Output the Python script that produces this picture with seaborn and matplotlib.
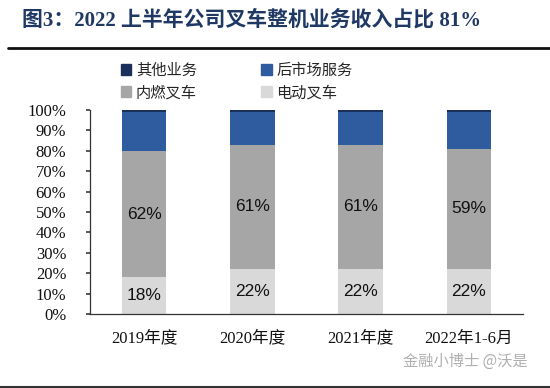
import matplotlib
matplotlib.use("Agg")
import matplotlib.pyplot as plt
import pandas as pd
import seaborn as sns
from matplotlib.patches import Patch

# data (%)
years = ["2019年度", "2020年度", "2021年度", "2022年1-6月"]
electric = [18, 22, 22, 22]        # 电动叉车
ice = [62, 61, 61, 59]             # 内燃叉车
aftermarket = [19.2, 16.2, 16.2, 18.0]  # 后市场服务
other = [0.8, 0.8, 0.8, 1.0]       # 其他业务

colors = {"电动叉车": "#d9d9d9", "内燃叉车": "#a6a6a6",
          "后市场服务": "#2e5c9e", "其他业务": "#1b2f5c"}

sns.set_theme(style="white")
serif = ["Liberation Serif", "Noto Sans CJK SC"]
cjk = ["Noto Sans CJK SC", "DejaVu Sans"]
plt.rcParams["font.family"] = cjk

df = pd.DataFrame({"year": years, "电动叉车": electric, "内燃叉车": ice,
                   "后市场服务": aftermarket, "其他业务": other})

fig = plt.figure(figsize=(5.5, 3.88), dpi=100)
ax = fig.add_axes([0.1636, 0.1907, 0.7874, 0.5258])

bottom = [0, 0, 0, 0]
for name in ["电动叉车", "内燃叉车", "后市场服务", "其他业务"]:
    sns.barplot(data=df, x="year", y=name, bottom=bottom, color=colors[name],
                width=0.41, saturation=1, linewidth=0, edgecolor="none", ax=ax)
    bottom = [b + v for b, v in zip(bottom, df[name])]

# value labels
for i in range(len(years)):
    ax.text(i, electric[i] / 2, f"{electric[i]}%", ha="center", va="center",
            fontsize=12.5, family="Liberation Sans", color="#111111")
    ax.text(i, electric[i] + ice[i] / 2, f"{ice[i]}%", ha="center", va="center",
            fontsize=12.5, family="Liberation Sans", color="#111111")

ax.set_xlim(-0.5, 3.5)
ax.set_ylim(0, 100)
ax.set_yticks(range(0, 101, 10))
ax.set_yticklabels([f"{v}%" for v in range(0, 101, 10)], family=serif, fontsize=12)
ax.set_xticks(range(4))
ax.set_xticklabels(years, family=serif, fontsize=12)
ax.set_xlabel("")
ax.set_ylabel("")
ax.set_xticks([0.5, 1.5, 2.5, 3.5], minor=True)
ax.tick_params(axis="x", which="major", length=0, pad=12, colors="#111111")
ax.tick_params(axis="x", which="minor", direction="in", length=4, color="#444444")
ax.tick_params(axis="y", length=3, direction="out", left=True, color="#444444",
               pad=14, colors="#111111")
for s in ["top", "right"]:
    ax.spines[s].set_visible(False)
for s in ["left", "bottom"]:
    ax.spines[s].set_color("#333333")
    ax.spines[s].set_linewidth(0.9)

# legend
handles = [Patch(color=colors["其他业务"]), Patch(color=colors["内燃叉车"]),
           Patch(color=colors["后市场服务"]), Patch(color=colors["电动叉车"])]
labels = ["其他业务", "内燃叉车", "后市场服务", "电动叉车"]
fig.legend(handles, labels, ncol=2, loc="center", bbox_to_anchor=(0.43, 0.79),
           frameon=False, fontsize=11, handlelength=0.7, handleheight=0.7,
           handletextpad=0.3, columnspacing=4.2, labelspacing=0.35)

# title and rules
fig.text(0.04, 0.947, "图3：2022 上半年公司叉车整机业务收入占比 81%", fontsize=15,
         fontweight="bold", color="#1f3864", va="center", family=serif)
fig.add_artist(plt.Line2D([0.015, 1.0], [0.877, 0.877], color="#111111", lw=2))
fig.add_artist(plt.Line2D([0.0, 1.0], [0.003, 0.003], color="#333333", lw=1.5))

# watermark
fig.text(0.96, 0.07, "金融小博士 @沃是", fontsize=11, color="#b0b0b0",
         ha="right", va="center")

fig.savefig("out.png", dpi=100)
